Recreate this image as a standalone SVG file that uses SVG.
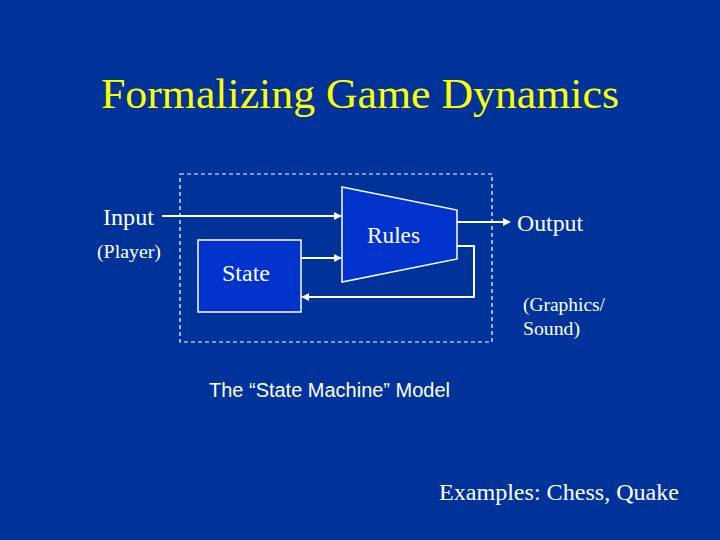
<svg xmlns="http://www.w3.org/2000/svg" width="720" height="540" viewBox="0 0 720 540">
<defs>
<style>
.t{font-family:"Liberation Serif","Times New Roman",serif;fill:#ffffff}
.s{font-family:"Liberation Sans",Arial,sans-serif;fill:#ffffff}
.ln{stroke:#ffffff;stroke-width:2;fill:none}
.box{fill:#0033cc;stroke:#ffffff;stroke-width:1.5}
</style>
<marker id="ah" viewBox="0 0 10 10" refX="9" refY="5" markerWidth="4" markerHeight="4" orient="auto" markerUnits="strokeWidth">
<path d="M0,0 L10,5 L0,10 z" fill="#ffffff"/>
</marker>
</defs>
<rect width="720" height="540" fill="#003399"/>
<text x="360" y="108" text-anchor="middle" font-family="Liberation Serif,Times New Roman,serif" font-size="43" textLength="518" lengthAdjust="spacingAndGlyphs" fill="#ffff00">Formalizing Game Dynamics</text>
<g id="boundary">
<rect x="180" y="174" width="312" height="168" fill="none" stroke="#ffffff" stroke-width="1.2" stroke-dasharray="4,3"/>
</g>
<g id="rules">
<polygon points="342,187 457,210 457,259 342,282" class="box"/>
<text x="367" y="243" class="t" font-size="23" textLength="53" lengthAdjust="spacingAndGlyphs">Rules</text>
</g>
<g id="state">
<rect x="198" y="240" width="103" height="72" class="box"/>
<text x="222" y="281" class="t" font-size="23.5" textLength="48" lengthAdjust="spacingAndGlyphs">State</text>
</g>
<g id="input">
<text x="103" y="225" class="t" font-size="23.5" textLength="51" lengthAdjust="spacingAndGlyphs">Input</text>
<text x="97" y="258" class="t" font-size="19.5" textLength="64" lengthAdjust="spacingAndGlyphs">(Player)</text>
</g>
<g id="output">
<text x="517" y="231" class="t" font-size="23" textLength="66" lengthAdjust="spacingAndGlyphs">Output</text>
<text x="523" y="311" class="t" font-size="19" textLength="82" lengthAdjust="spacingAndGlyphs">(Graphics/</text>
<text x="523" y="335" class="t" font-size="19" textLength="57" lengthAdjust="spacingAndGlyphs">Sound)</text>
</g>
<g id="connectors">
<line x1="162" y1="216" x2="341" y2="216" class="ln" marker-end="url(#ah)"/>
<line x1="301" y1="258" x2="341" y2="258" class="ln" marker-end="url(#ah)"/>
<line x1="457" y1="222" x2="510" y2="222" class="ln" marker-end="url(#ah)"/>
<polyline points="457,246 474,246 474,297 302,297" class="ln" marker-end="url(#ah)"/>
</g>
<text x="209" y="397" class="s" font-size="19.5" textLength="241" lengthAdjust="spacingAndGlyphs">The “State Machine” Model</text>
<text x="439" y="500" class="t" font-size="23" textLength="240" lengthAdjust="spacingAndGlyphs">Examples: Chess, Quake</text>
</svg>
